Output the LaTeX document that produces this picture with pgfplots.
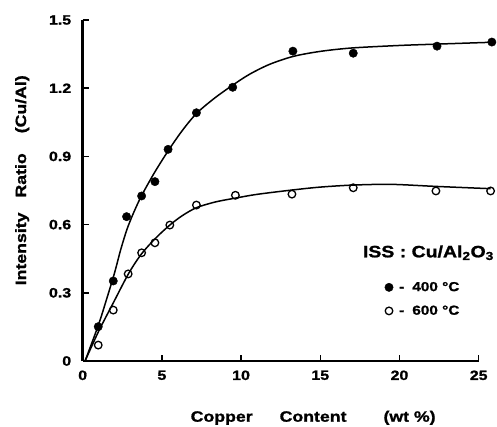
\documentclass[border=0pt]{standalone}
\usepackage{fontspec}
\setmainfont{Liberation Sans}[FakeStretch=1.18, BoldFeatures={FakeStretch=1.18, FakeBold=1.2}]
\usepackage{pgfplots}
\usepackage{pgfplotstable}
\pgfplotsset{compat=1.18}
\pgfplotsset{marklegend/.style={legend image code/.code={\draw[##1] plot coordinates {(0pt,0pt)};}}}

\pgfplotstableread{
x y
0.98 0.151
1.93 0.352
2.77 0.635
3.72 0.726
4.56 0.789
5.39 0.931
7.18 1.092
9.47 1.204
13.27 1.363
17.08 1.354
22.37 1.385
25.83 1.403
}\filleddata

\pgfplotstableread{
x y
0.98 0.070
1.93 0.224
2.87 0.383
3.72 0.476
4.56 0.520
5.50 0.598
7.18 0.686
9.64 0.729
13.21 0.734
17.08 0.762
22.30 0.748
25.75 0.748
}\opendata

\pgfplotstableread{
x y
0.15 0
1 0.16
1.5 0.27
2 0.385
2.4 0.49
2.8 0.58
3.2 0.65
3.7 0.725
4.5 0.825
5.4 0.925
6.3 1.015
7.2 1.09
8.3 1.155
9.4 1.21
10.5 1.26
11.8 1.305
13.3 1.34
15 1.362
17 1.377
20 1.388
22.4 1.394
25.8 1.402
}\filledcurve

\pgfplotstableread{
x y
0.15 0
1 0.13
2 0.265
2.9 0.385
3.7 0.47
4.6 0.54
5.5 0.598
6.3 0.64
7.2 0.675
8.4 0.70
9.6 0.716
11 0.733
13.2 0.752
15 0.765
17.1 0.774
19.5 0.777
22.3 0.768
25.75 0.758
}\opencurve

\begin{document}
\begin{tikzpicture}
\path[use as bounding box] (-82.7pt,-65pt) rectangle (414.3pt,361pt);
\begin{axis}[
  scale only axis,
  width=396pt, height=341pt,
  xmin=0, xmax=25, ymin=0, ymax=1.5,
  clip=false,
  axis x line*=bottom, axis y line*=left,
  axis line style={line width=2.6pt, -},
  tick align=inside,
  major tick length=6pt,
  every tick/.style={line width=1.5pt, black},
  xtick={0,5,10,15,20,25},
  ytick={0,0.3,0.6,0.9,1.2,1.5},
  yticklabels={0,0.3,0.6,0.9,1.2,1.5},
  /pgf/number format/assume math mode=true,
  ticklabel style={font=\fontsize{13.5pt}{16pt}\selectfont\bfseries},
  xticklabel style={yshift=-6pt},
  yticklabel style={xshift=-8pt},
  xlabel={Copper\hspace{27pt}Content\hspace{37pt}(wt \%)},
  ylabel={Intensity\hspace{15pt}Ratio\hspace{20pt}(Cu/Al)},
  label style={font=\fontsize{15pt}{18pt}\selectfont\bfseries},
  xlabel style={at={(axis description cs:0.582,-0.178)}, anchor=base},
  ylabel style={at={(axis description cs:-0.143,0.53)}, anchor=base, rotate=0},
  legend style={at={(axis cs:19.06,0.357)}, anchor=north west, draw=none, fill=none,
    inner sep=0pt, row sep=9pt,
    font=\fontsize{13pt}{15pt}\selectfont\bfseries},
  legend cell align=left,
]
\addplot[black, line width=1.5pt, smooth, forget plot] table[x=x,y=y] {\filledcurve};
\addplot[black, line width=1.5pt, smooth, forget plot] table[x=x,y=y] {\opencurve};
\addplot[only marks, mark=*, mark size=4.2pt, black, marklegend] table[x=x,y=y] {\filleddata};
\addlegendentry{\hspace{4pt}-\hspace{8pt}400 °C}
\addplot[only marks, mark=o, mark size=3.8pt, black, line width=1.3pt, mark options={fill=white}, marklegend] table[x=x,y=y] {\opendata};
\addlegendentry{\hspace{4pt}-\hspace{8pt}600 °C}
\node[anchor=base west, inner sep=0pt, font=\fontsize{16.5pt}{19pt}\selectfont\bfseries]
  at (axis cs:17.68,0.456) {ISS : Cu/Al\textsubscript{2}O\textsubscript{3}};
\end{axis}
\end{tikzpicture}
\end{document}
